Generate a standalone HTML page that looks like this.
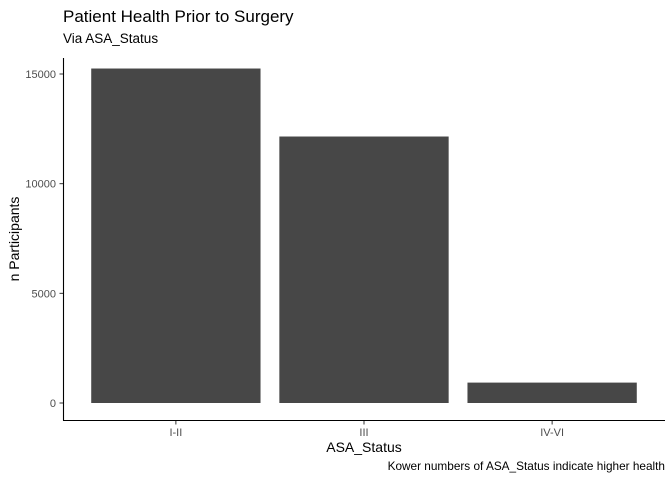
<!DOCTYPE html>
<html><head><meta charset="utf-8"><style>
body{margin:0;background:#fff;font-family:"Liberation Sans",Arial,sans-serif}
</style></head><body>
<svg width="672" height="480" xmlns="http://www.w3.org/2000/svg" font-family="Liberation Sans, Arial, sans-serif">
<text x="63" y="22" font-size="17" fill="#000">Patient Health Prior to Surgery</text>
<text x="63" y="43" font-size="13.5" fill="#000">Via ASA_Status</text>
<g id="plot"></g>
<line x1="63.5" y1="58" x2="63.5" y2="420.5" stroke="#000" stroke-width="1.1"/>
<line x1="63" y1="420.5" x2="665" y2="420.5" stroke="#000" stroke-width="1.1"/>
<text transform="translate(19,239) rotate(-90)" text-anchor="middle" font-size="14" fill="#000">n Participants</text>
<text x="364" y="452" text-anchor="middle" font-size="14" fill="#000">ASA_Status</text>
<text x="665" y="470" text-anchor="end" font-size="11.8" fill="#000">Kower numbers of ASA_Status indicate higher health</text>
</svg>
<script>
const categories = ["I-II", "III", "IV-VI"];
const values = [15250, 12150, 930];
const yTicks = [0, 5000, 10000, 15000];
const ns = "http://www.w3.org/2000/svg";
const g = document.getElementById("plot");
const x0 = 63, x1 = 665, y0 = 403, pxPerUnit = 0.021933;
const band = (x1 - x0) / (categories.length + 0.2);
function yPos(v){ return y0 - v * pxPerUnit; }
function mk(tag, attrs){ const e = document.createElementNS(ns, tag); for (const k in attrs) e.setAttribute(k, attrs[k]); g.appendChild(e); return e; }
const bw = band * 0.9;
categories.forEach((c, i) => {
  const cx = x0 + band * 0.6 + band * i;
  const r = mk("rect", {x: cx - bw/2, y: yPos(values[i]), width: bw, height: y0 - yPos(values[i]), fill: "#474747"});
  
  
  const t = mk("line", {x1: cx, x2: cx, y1: 420.5, y2: 424.5, stroke: "#333"});
  
  
  const l = mk("text", {x: cx, y: 436, "text-anchor": "middle", "font-size": 11, fill: "#4d4d4d"});
  l.textContent = c;
  
  
});
yTicks.forEach(v => {
  const y = yPos(v);
  const t = mk("line", {x1: 59.5, x2: 63.5, y1: y, y2: y, stroke: "#333"});
  
  
  const l = mk("text", {x: 56, y: y + 4, "text-anchor": "end", "font-size": 11, fill: "#4d4d4d"});
  l.textContent = v;
  
  
});
</script>
</body></html>
